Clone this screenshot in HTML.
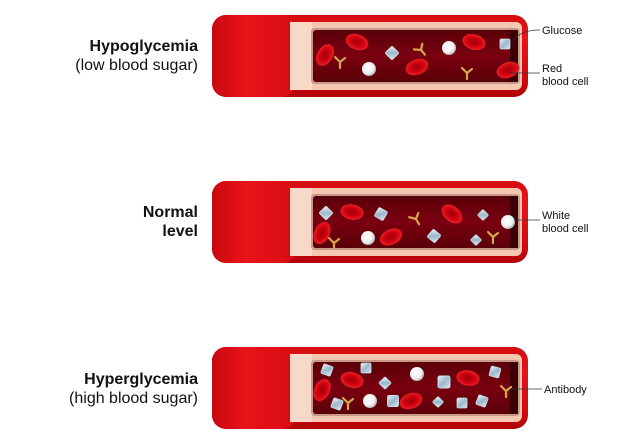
<!DOCTYPE html>
<html><head><style>
html,body{margin:0;padding:0;background:#fff;}
svg{display:block;}
text{font-family:"Liberation Sans",Arial,sans-serif;}
</style></head><body>
<svg width="629" height="442" viewBox="0 0 629 442" xmlns="http://www.w3.org/2000/svg">
<defs>
<radialGradient id="rbc" cx="50%" cy="50%" r="50%">
<stop offset="0" stop-color="#a0000a"/><stop offset="0.55" stop-color="#c8000f"/><stop offset="1" stop-color="#e8141c"/>
</radialGradient>
<radialGradient id="wbc" cx="40%" cy="40%" r="60%">
<stop offset="0" stop-color="#ffffff"/><stop offset="0.7" stop-color="#f0f0f0"/><stop offset="1" stop-color="#b8b8b8"/>
</radialGradient>
<linearGradient id="gl" x1="0" y1="0" x2="1" y2="1">
<stop offset="0" stop-color="#e8f2f8"/><stop offset="0.5" stop-color="#9ab8cc"/><stop offset="1" stop-color="#dce8f0"/>
</linearGradient>
<linearGradient id="tube" x1="0" y1="0" x2="0" y2="1">
<stop offset="0" stop-color="#d40c10"/><stop offset="0.3" stop-color="#e8141a"/><stop offset="0.8" stop-color="#cf0a0e"/><stop offset="1" stop-color="#b00008"/>
</linearGradient>
<linearGradient id="cap" x1="0" y1="0" x2="1" y2="0">
<stop offset="0" stop-color="#c8080e"/><stop offset="0.4" stop-color="#e8141a"/><stop offset="1" stop-color="#d80c12"/>
</linearGradient>
<linearGradient id="inner" x1="0" y1="0" x2="0" y2="1">
<stop offset="0" stop-color="#5a0008"/><stop offset="0.5" stop-color="#7a0010"/><stop offset="1" stop-color="#5a0008"/>
</linearGradient>
<g id="T">
<rect x="212" y="0" width="316" height="82" rx="14" fill="url(#tube)"/>
<rect x="212" y="0" width="84" height="82" rx="14" fill="url(#cap)"/>
<rect x="290" y="7" width="232" height="68" rx="6" fill="#f4c8b0"/>
<rect x="290" y="7" width="22" height="68" fill="#f8d8c8"/>
<rect x="311" y="13" width="209" height="56" rx="4" fill="#c89888"/>
<rect x="313" y="15" width="205" height="52" rx="3" fill="url(#inner)"/>
<rect x="510" y="15" width="8" height="52" fill="#3a0006"/>
</g>
<g id="R"><ellipse rx="11" ry="7" fill="url(#rbc)" stroke="#e01a20" stroke-width="1.5"/></g>
<g id="W"><circle r="7" fill="url(#wbc)"/></g>
<g id="G"><rect x="-5" y="-5" width="10" height="10" rx="1.5" fill="url(#gl)" stroke="#d0dde6" stroke-width="0.8"/></g>
<g id="A"><path d="M0,6 L0,0 M0,0 L-5,-5 M0,0 L5,-4" stroke="#d4a84a" stroke-width="2.2" fill="none" stroke-linecap="round"/></g>
</defs>

<!-- Tube 1 -->
<use href="#T" y="15"/>
<g transform="translate(325,55) rotate(-60)"><use href="#R"/></g>
<g transform="translate(357,42) rotate(20)"><use href="#R"/></g>
<g transform="translate(417,67) rotate(-20)"><use href="#R"/></g>
<g transform="translate(474,42) rotate(15)"><use href="#R"/></g>
<g transform="translate(508,70) rotate(-20)"><use href="#R"/></g>
<use href="#W" x="369" y="69"/><use href="#W" x="449" y="48"/>
<g transform="translate(392,53) rotate(45)"><use href="#G"/></g>
<g transform="translate(505,44)"><use href="#G"/></g>
<g transform="translate(340,62)"><use href="#A"/></g>
<g transform="translate(421,50) rotate(-40)"><use href="#A"/></g>
<g transform="translate(467,73)"><use href="#A"/></g>

<!-- Tube 2 -->
<use href="#T" y="181"/>
<g transform="translate(322,233) rotate(-65)"><use href="#R"/></g>
<g transform="translate(352,212) rotate(10)"><use href="#R"/></g>
<g transform="translate(391,237) rotate(-25)"><use href="#R"/></g>
<g transform="translate(452,214) rotate(40)"><use href="#R"/></g>
<use href="#W" x="368" y="238"/><use href="#W" x="508" y="222"/>
<g transform="translate(326,213) rotate(45)"><use href="#G"/></g>
<g transform="translate(381,214) rotate(30)"><use href="#G"/></g>
<g transform="translate(434,236) rotate(40)"><use href="#G"/></g>
<g transform="translate(483,215) rotate(45) scale(0.8)"><use href="#G"/></g>
<g transform="translate(476,240) rotate(45) scale(0.8)"><use href="#G"/></g>
<g transform="translate(334,243)"><use href="#A"/></g>
<g transform="translate(416,219) rotate(-30)"><use href="#A"/></g>
<g transform="translate(493,237)"><use href="#A"/></g>

<!-- Tube 3 -->
<use href="#T" y="347"/>
<g transform="translate(322,390) rotate(-65)"><use href="#R"/></g>
<g transform="translate(352,380) rotate(15)"><use href="#R"/></g>
<g transform="translate(411,401) rotate(-20)"><use href="#R"/></g>
<g transform="translate(468,378) rotate(10)"><use href="#R"/></g>
<use href="#W" x="417" y="374"/><use href="#W" x="370" y="401"/>
<g transform="translate(327,370) rotate(20)"><use href="#G"/></g>
<g transform="translate(366,368)"><use href="#G"/></g>
<g transform="translate(385,383) rotate(45) scale(0.9)"><use href="#G"/></g>
<g transform="translate(444,382) scale(1.2)"><use href="#G"/></g>
<g transform="translate(337,404) rotate(20)"><use href="#G"/></g>
<g transform="translate(393,401) scale(1.1)"><use href="#G"/></g>
<g transform="translate(438,402) rotate(45) scale(0.8)"><use href="#G"/></g>
<g transform="translate(462,403)"><use href="#G"/></g>
<g transform="translate(482,401) rotate(20)"><use href="#G"/></g>
<g transform="translate(495,372) rotate(15)"><use href="#G"/></g>
<g transform="translate(348,403)"><use href="#A"/></g>
<g transform="translate(506,391)"><use href="#A"/></g>

<!-- Leader lines -->
<g stroke="#333" stroke-width="0.8" fill="none">
<path d="M513,41 Q520,30 540,30"/>
<line x1="510" y1="73" x2="540" y2="73"/>
<line x1="514" y1="220" x2="540" y2="220"/>
<line x1="510" y1="389" x2="542" y2="389"/>
</g>

<!-- Labels -->
<g font-size="16" text-anchor="end" fill="#111">
<text x="198" y="51" font-weight="bold">Hypoglycemia</text>
<text x="198" y="70">(low blood sugar)</text>
<text x="198" y="217" font-weight="bold">Normal</text>
<text x="198" y="236" font-weight="bold">level</text>
<text x="198" y="384" font-weight="bold">Hyperglycemia</text>
<text x="198" y="403">(high blood sugar)</text>
</g>
<g font-size="11" fill="#111">
<text x="542" y="34">Glucose</text>
<text x="542" y="72">Red</text>
<text x="542" y="85">blood cell</text>
<text x="542" y="219">White</text>
<text x="542" y="232">blood cell</text>
<text x="544" y="393">Antibody</text>
</g>
</svg>
</body></html>
